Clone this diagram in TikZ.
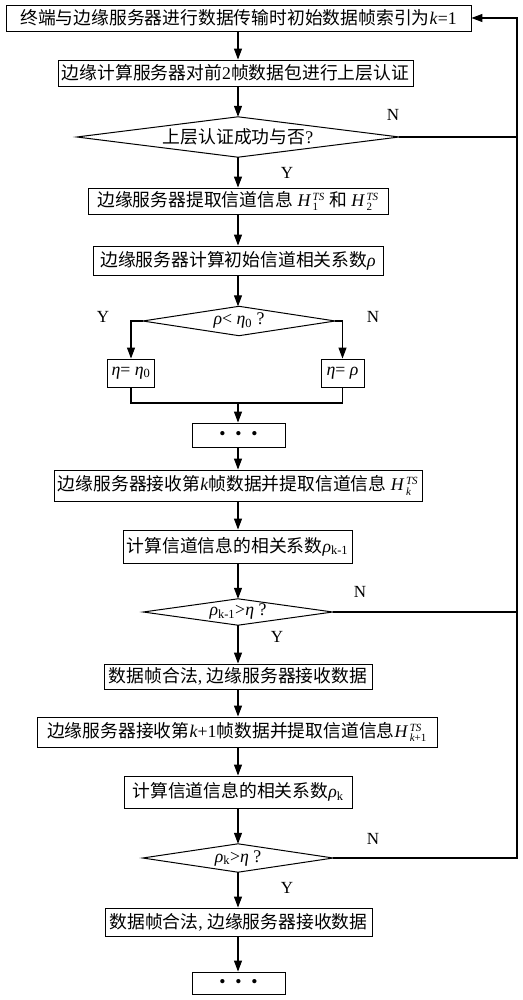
\documentclass[tikz,border=0pt]{standalone}
\usepackage{fontspec}
\setmainfont{Liberation Serif}
\newfontfamily\cjk{Noto Sans CJK SC}
\usetikzlibrary{arrows.meta}
\newcommand{\sm}[1]{\hbox{\fontsize{11}{11}\selectfont #1}}
\newcommand{\HTS}[1]{\textit{H}\kern1.5pt$^{\sm{\itshape TS}}_{\sm{#1}}$}
\begin{document}
\begin{tikzpicture}[x=1pt,y=-1pt,
  every node/.style={font=\fontsize{17.8}{20}\selectfont, inner sep=0pt},
  proc/.style={draw, line width=0.9pt, minimum width=#1},
  ghost/.style={minimum width=#1},
  lbl/.style={font=\fontsize{17}{20}\selectfont},
  flow/.style={line width=1.1pt, -{Triangle[width=8pt,length=11pt]}},
  line/.style={line width=1.1pt},
  dia/.style={draw, line width=1pt}]
\useasboundingbox (0,0) rectangle (522,1000);

\node[proc=465, minimum height=26] (b1) at (238.5,18) {{\cjk 终端与边缘服务器进行数据传输时初始数据帧索引为}\textit{k}=1};
\node[proc=355, minimum height=26] (b2) at (235.5,73) {{\cjk 边缘计算服务器对前}2{\cjk 帧数据包进行上层认证}};
\node[ghost=322, minimum height=40] (d1) at (238,137) {{\cjk 上层认证成功与否}?};
\node[proc=300, minimum height=26] (b3) at (238,201) {{\cjk 边缘服务器提取信道信息} \HTS{1} {\cjk 和} \HTS{2}};
\node[proc=290, minimum height=29] (b4) at (238,260.5) {{\cjk 边缘服务器计算初始信道相关系数}\textit{ρ}};
\node[ghost=192, minimum height=29] (d2) at (239,321) {\textit{ρ}< \textit{η}\textsubscript{0} ?};
\node[proc=47, minimum height=28] (eL) at (131,373) {\textit{η}= \textit{η}\textsubscript{0}};
\node[proc=43, minimum height=28] (eR) at (342.5,373) {\textit{η}= \textit{ρ}};
\coordinate (j) at (238,403);
\node[proc=93, minimum height=24] (o1) at (238.5,435) {\textbullet\;\;\textbullet\;\;\textbullet};
\node[proc=368, minimum height=31] (b5) at (238,485.5) {{\cjk 边缘服务器接收第}\textit{k}{\cjk 帧数据并提取信道信息} \HTS{\itshape k}};
\node[proc=229, minimum height=33] (b6) at (237.5,546.5) {{\cjk 计算信道信息的相关系数}\textit{ρ}\textsubscript{k-1}};
\node[ghost=189, minimum height=26] (d3) at (238,612) {\textit{ρ}\textsubscript{k-1}>\textit{η} ?};
\node[proc=268, minimum height=25] (b7) at (238,676.5) {{\cjk 数据帧合法}, {\cjk 边缘服务器接收数据}};
\node[proc=400, minimum height=30] (b8) at (237,732) {{\cjk 边缘服务器接收第}\textit{k}+1{\cjk 帧数据并提取信道信息}\HTS{\itshape k\upshape+1}};
\node[proc=228, minimum height=32] (b9) at (238,792) {{\cjk 计算信道信息的相关系数}\textit{ρ}\textsubscript{k}};
\node[ghost=190, minimum height=28] (d4) at (238,858) {\textit{ρ}\textsubscript{k}>\textit{η} ?};
\node[proc=267, minimum height=28] (b10) at (238.5,922) {{\cjk 数据帧合法}, {\cjk 边缘服务器接收数据}};
\node[proc=93, minimum height=22] (o2) at (238.5,983) {\textbullet\;\;\textbullet\;\;\textbullet};

\foreach \d in {d1,d2,d3,d4}
  \draw[dia] (\d.west) -- (\d.north) -- (\d.east) -- (\d.south) -- cycle;

\coordinate (rr) at (517,0);

\draw[flow] (b1.south -| 238,0) -- (b2.north -| 238,0);
\draw[flow] (b2.south -| 238,0) -- (d1.north);
\draw[flow] (d1.south) -- (b3.north);
\draw[flow] (b3.south) -- (b4.north);
\draw[flow] (b4.south) -- (d2.north -| 238,0);
\draw[flow] (d2.west) -| (eL.north);
\draw[flow] (d2.east) -| (eR.north);
\draw[line] (eL.south) |- (j);
\draw[line] (eR.south) |- (j);
\draw[flow] (j) -- (o1.north -| j);
\draw[flow] (o1.south -| j) -- (b5.north -| j);
\draw[flow] (b5.south -| j) -- (b6.north -| j);
\draw[flow] (b6.south -| j) -- (d3.north);
\draw[flow] (d3.south) -- (b7.north);
\draw[flow] (b7.south) -- (b8.north -| b7.south);
\draw[flow] (b8.south -| b7.south) -- (b9.north);
\draw[flow] (b9.south) -- (d4.north);
\draw[flow] (d4.south) -- (b10.north -| d4.south);
\draw[flow] (b10.south -| d4.south) -- (o2.north -| d4.south);

\draw[line] (d1.east) -- (d1.east -| rr);
\draw[line] (d3.east) -- (d3.east -| rr);
\draw[flow] (d4.east) -- (d4.east -| rr) |- (b1.east);

\node[lbl] (n1) at (393,115) {N};
\node[lbl] (y1) at (287,173) {Y};
\node[lbl] (y2) at (103,317) {Y};
\node[lbl] (n2) at (373,317) {N};
\node[lbl] (n3) at (360,592) {N};
\node[lbl] (y3) at (277,637) {Y};
\node[lbl] (n4) at (373,839) {N};
\node[lbl] (y4) at (287,888) {Y};
\end{tikzpicture}
\end{document}
